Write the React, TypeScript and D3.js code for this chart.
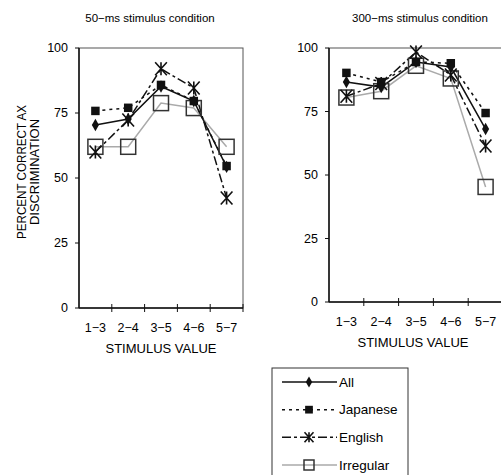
import * as d3 from 'd3';
import React from 'react';

// stimulus pairs on the x axis
const categories = ['1\u22123', '2\u22124', '3\u22125', '4\u22126', '5\u22127'];
const yTicks = [0, 25, 50, 75, 100];

// 50-ms condition
const all50 = [70.4, 72.7, 85.2, 79.6, 54.3];
const japanese50 = [75.8, 77.0, 85.8, 79.6, 54.6];
const english50 = [60.0, 72.3, 92.0, 84.6, 42.3];
const irregular50 = [62.0, 62.0, 78.8, 76.9, 62.0];

// 300-ms condition
const all300 = [86.6, 84.6, 94.5, 92.5, 68.1];
const japanese300 = [90.2, 86.6, 94.5, 94.0, 74.4];
const english300 = [81.0, 86.0, 98.4, 89.4, 61.4];
const irregular300 = [80.5, 83.0, 93.0, 88.0, 45.3];

const seriesNames = ['All', 'Japanese', 'English', 'Irregular'];

const FONT = '"Liberation Sans", Arial, sans-serif';

const styles: Record<string, { stroke: string; dash?: string }> = {
  All: { stroke: '#111' },
  Japanese: { stroke: '#111', dash: '3,4' },
  English: { stroke: '#111', dash: '9,3,3,3' },
  Irregular: { stroke: '#aaa' },
};

const asterisk = (s: number) => {
  const h = s / 2;
  const w = s * 0.45;
  return `M${-w},${-h}L${w},${h}M${w},${-h}L${-w},${h}M0,${-h}L0,${h}`;
};

const Marker = ({ name, x, y, big }: { name: string; x: number; y: number; big: boolean }) => {
  if (name === 'All') {
    const p = d3.symbol(d3.symbolDiamond, big ? 44 : 36)();
    return <path d={p!} transform={`translate(${x},${y})`} fill="#111" />;
  }
  if (name === 'Japanese') {
    const p = d3.symbol(d3.symbolSquare, big ? 72 : 60)();
    return <path d={p!} transform={`translate(${x},${y})`} fill="#111" />;
  }
  if (name === 'English') {
    return <path d={asterisk(big ? 13 : 10)} transform={`translate(${x},${y})`} stroke="#111" strokeWidth={1.6} fill="none" />;
  }
  const s = big ? 15 : 10;
  return <rect x={x - s / 2} y={y - s / 2} width={s} height={s} fill="none" stroke="#333" strokeWidth={1.5} />;
};

type PanelProps = {
  title: string;
  left: number;
  right: number;
  top: number;
  bottom: number;
  titleX: number;
  data: Record<string, number[]>;
};

const Panel = ({ title, left, right, top, bottom, titleX, data }: PanelProps) => {
  const x = d3.scaleBand().domain(categories).range([left, right]);
  const y = d3.scaleLinear().domain([0, 100]).range([bottom, top]);
  const line = d3
    .line<number>()
    .x((_, i) => x(categories[i])! + x.bandwidth() / 2)
    .y((d) => y(d));
  const order = ['Irregular', 'English', 'Japanese', 'All'];
  return (
    <g>
      <text x={titleX} y={22} textAnchor="middle" fontSize={11.5} fontFamily={FONT}>
        {title}
      </text>
      <rect x={left} y={top} width={right - left} height={bottom - top} fill="none" stroke="#555" strokeWidth={1} />
      <line x1={left} x2={left} y1={top} y2={bottom} stroke="#111" strokeWidth={1.5} />
      <line x1={left} x2={right} y1={bottom} y2={bottom} stroke="#111" strokeWidth={1.5} />
      {yTicks.map((t) => (
        <g key={t}>
          <line x1={left - 4} x2={left} y1={y(t)} y2={y(t)} stroke="#111" />
          <text x={left - 11} y={y(t)} dy="0.35em" textAnchor="end" fontSize={12.5} fontFamily={FONT}>
            {t}
          </text>
        </g>
      ))}
      {categories.map((c) => (
        <g key={c}>
          <line x1={x(c)! + x.bandwidth()} x2={x(c)! + x.bandwidth()} y1={bottom - 4} y2={bottom + 4} stroke="#111" />
          <text x={x(c)! + x.bandwidth() / 2} y={bottom + 20} dy="0.35em" textAnchor="middle" fontSize={12.5} fontFamily={FONT}>
            {c}
          </text>
        </g>
      ))}
      <text x={(left + right) / 2 - (right > 490 ? 3 : 0)} y={bottom + 40} dy="0.35em" textAnchor="middle" fontSize={13} fontFamily={FONT}>
        STIMULUS VALUE
      </text>
      {order.map((n) => (
        <path key={n} d={line(data[n])!} fill="none" stroke={styles[n].stroke} strokeWidth={1.5} strokeDasharray={styles[n].dash} />
      ))}
      {order.map((n) =>
        data[n].map((v, i) => (
          <Marker key={n + i} name={n} x={x(categories[i])! + x.bandwidth() / 2} y={y(v)} big />
        ))
      )}
    </g>
  );
};

const Legend = () => {
  const rows = d3.scalePoint().domain(seriesNames).range([382, 465]);
  return (
    <g>
      <rect x={272} y={368} width={136} height={120} fill="#fff" stroke="#333" strokeWidth={1} />
      {seriesNames.map((n) => (
        <g key={n}>
          <line x1={282} x2={337} y1={rows(n)} y2={rows(n)} stroke={styles[n].stroke} strokeWidth={1.5} strokeDasharray={styles[n].dash} />
          <Marker name={n} x={309} y={rows(n)!} big={false} />
          <text x={339} y={rows(n)} dy="0.35em" fontSize={13.5} fontFamily={FONT}>
            {n}
          </text>
        </g>
      ))}
    </g>
  );
};

export default function App() {
  return (
    <svg width={501} height={475} style={{ position: 'absolute', left: 0, top: 0, background: '#fff' }}>
      <g transform="translate(26,172) rotate(-90)">
        <text x={0} y={0} textAnchor="middle" fontSize={13} fontFamily={FONT} textLength={134} lengthAdjust="spacingAndGlyphs">
          PERCENT CORRECT AX
        </text>
        <text x={0} y={13} textAnchor="middle" fontSize={13} fontFamily={FONT} textLength={106} lengthAdjust="spacingAndGlyphs">
          DISCRIMINATION
        </text>
      </g>
      <Panel
        title={'50\u2212ms stimulus condition'}
        left={79}
        right={243}
        top={48}
        bottom={308}
        titleX={150}
        data={{ All: all50, Japanese: japanese50, English: english50, Irregular: irregular50 }}
      />
      <Panel
        title={'300\u2212ms stimulus condition'}
        left={329}
        right={503}
        top={48}
        bottom={302}
        titleX={420}
        data={{ All: all300, Japanese: japanese300, English: english300, Irregular: irregular300 }}
      />
      <Legend />
    </svg>
  );
}
